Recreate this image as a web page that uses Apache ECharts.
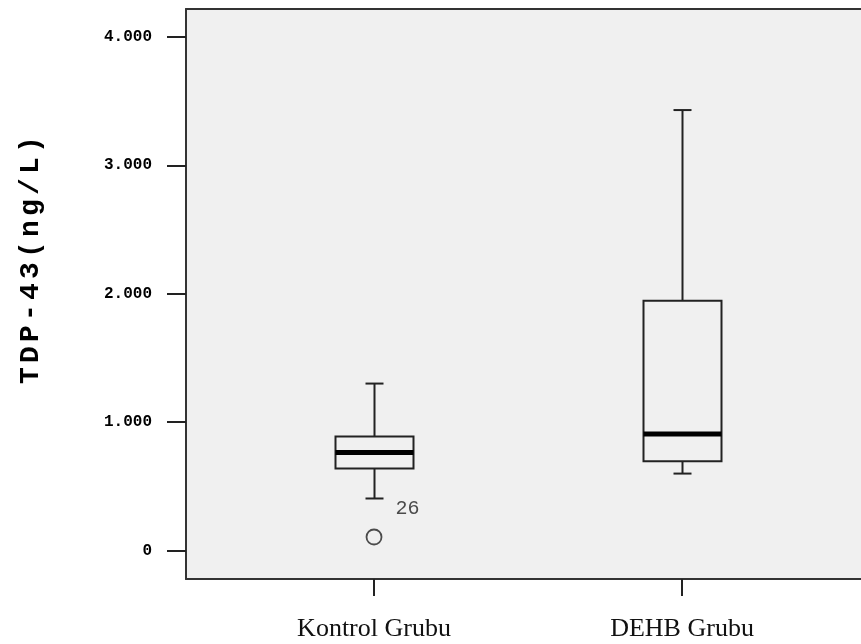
<!DOCTYPE html>
<html>
<head>
<meta charset="utf-8">
<script src="https://cdn.jsdelivr.net/npm/echarts@6/dist/echarts.min.js"></script>
<style>html,body{margin:0;padding:0;background:#fff}#c{width:861px;height:644px}</style>
</head>
<body>
<div id="c"></div>
<script>
// Categories
var categories = ['Kontrol Grubu', 'DEHB Grubu'];
// Box statistics (ng/L): [lower whisker, Q1, median, Q3, upper whisker]
var kontrolBox = [405, 638, 763, 887, 1300];
var dehbBox = [599, 695, 908, 1945, 3430];
// Outliers: [category index, value, case label]
var outliers = [[0, 105, '26']];
// Y tick values and labels
var yTickValues = [0, 1000, 2000, 3000, 4000];
var yTickLabels = ['0', '1.000', '2.000', '3.000', '4.000'];
var yTitle = 'TDP-43(ng/L)';

var boxData = [[0].concat(kontrolBox), [1].concat(dehbBox)];

var chart = echarts.init(document.getElementById('c'), null, {renderer: 'canvas'});

var titleRich = yTitle.split('').map(function (ch) { return '{c|' + ch + '}'; }).join('');

var lineColor = '#222';
var frame = {show: true, onZero: false, lineStyle: {color: '#333', width: 2}};

chart.setOption({
  animation: false,
  backgroundColor: '#ffffff',
  grid: {
    left: 186, top: 9, right: 0, bottom: 65,
    show: true, backgroundColor: '#f0f0f0', borderWidth: 0
  },
  xAxis: [{
    type: 'value', min: -0.6104, max: 1.581,
    axisLine: frame,
    splitLine: {show: false},
    axisTick: {show: true, customValues: [0, 1], length: 17, lineStyle: {color: lineColor, width: 2}},
    axisLabel: {
      customValues: [0, 1], margin: 37,
      formatter: function (v) { return categories[Math.round(v)]; },
      fontFamily: 'Liberation Serif', fontSize: 26, color: '#111'
    }
  }, {
    type: 'value', position: 'top', min: -0.6104, max: 1.581,
    axisLine: frame, axisTick: {show: false}, axisLabel: {show: false}, splitLine: {show: false}
  }],
  yAxis: {
    type: 'value', min: -222, max: 4217,
    axisLine: frame,
    splitLine: {show: false},
    axisTick: {show: true, customValues: yTickValues, length: 19, lineStyle: {color: lineColor, width: 2}},
    axisLabel: {
      customValues: yTickValues, margin: 34,
      formatter: function (v) { var i = yTickValues.indexOf(v); return i >= 0 ? yTickLabels[i] : ''; },
      fontFamily: 'Liberation Mono', fontWeight: 'bold', fontSize: 16, color: '#000'
    },
    name: titleRich,
    nameLocation: 'middle', nameRotate: 90, nameGap: 141,
    nameTextStyle: {
      padding: [0, 0, 0, 68],
      rich: {c: {width: 21, align: 'center', fontFamily: 'Liberation Mono', fontWeight: 'bold', fontSize: 28, color: '#000'}}
    }
  },
  series: [
    {
      type: 'custom',
      data: boxData,
      encode: {x: 0, y: [1, 2, 3, 4, 5]},
      renderItem: function (params, api) {
        var x = api.value(0);
        var pMin = api.coord([x, api.value(1)]);
        var pQ1 = api.coord([x, api.value(2)]);
        var pMed = api.coord([x, api.value(3)]);
        var pQ3 = api.coord([x, api.value(4)]);
        var pMax = api.coord([x, api.value(5)]);
        var cx = Math.round(pMed[0]) + 0.5;
        var hw = 39, cap = 9;
        var st = {stroke: lineColor, lineWidth: 2, fill: null};
        return {
          type: 'group',
          children: [
            {type: 'line', shape: {x1: cx, y1: pMax[1], x2: cx, y2: pQ3[1]}, style: st},
            {type: 'line', shape: {x1: cx, y1: pQ1[1], x2: cx, y2: pMin[1]}, style: st},
            {type: 'line', shape: {x1: cx - cap, y1: pMax[1], x2: cx + cap, y2: pMax[1]}, style: st},
            {type: 'line', shape: {x1: cx - cap, y1: pMin[1], x2: cx + cap, y2: pMin[1]}, style: st},
            {type: 'rect', shape: {x: cx - hw, y: pQ3[1], width: hw * 2, height: pQ1[1] - pQ3[1]}, style: {stroke: lineColor, lineWidth: 2, fill: 'none'}},
            {type: 'line', shape: {x1: cx - hw, y1: pMed[1], x2: cx + hw, y2: pMed[1]}, style: {stroke: '#000', lineWidth: 5}}
          ]
        };
      }
    },
    {
      type: 'scatter',
      data: outliers.map(function (o) { return {value: [o[0], o[1]], name: o[2]}; }),
      symbol: 'circle', symbolSize: 15,
      itemStyle: {color: 'rgba(0,0,0,0)', borderColor: '#222', borderWidth: 1.8},
      label: {
        show: true, formatter: function (p) { return p.name; },
        position: 'right', offset: [8, -28],
        fontFamily: 'Liberation Mono', fontSize: 20, color: '#222'
      }
    }
  ]
});
</script>
</body>
</html>
